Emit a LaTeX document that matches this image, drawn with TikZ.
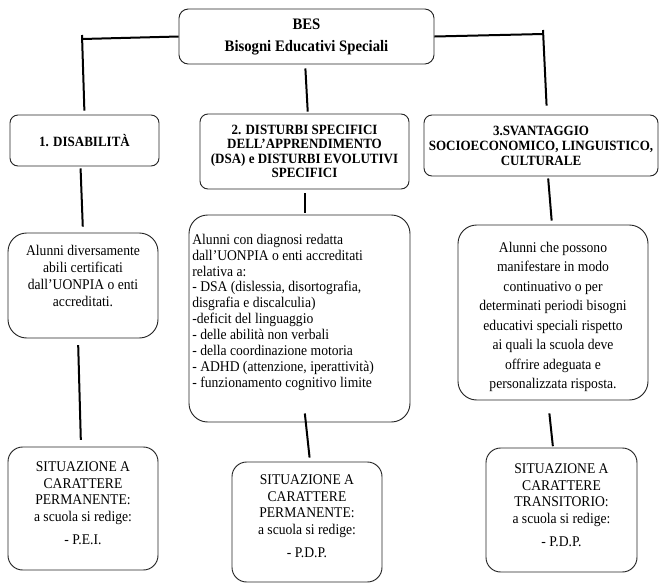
\documentclass[tikz,border=0pt]{standalone}
\usepackage{fontspec}
\setmainfont{Liberation Serif}[FakeStretch=0.92]
\newcommand{\boxtext}[5]{\begin{minipage}[c][#2][t]{#1}\fontsize{11.1}{#4}\selectfont\centering\vspace*{#3}#5\end{minipage}}
\tikzset{
  head/.style={draw=black!85,line width=0.7pt,rounded corners=6pt,align=center,inner sep=1pt,font=\bfseries\fontsize{10.6}{11}\selectfont},
  info/.style={draw=black!85,line width=0.7pt,rounded corners=14pt,inner sep=0pt},
  outcome/.style={draw=black!85,line width=0.7pt,rounded corners=11pt,inner sep=0pt},
  link/.style={line width=1.5pt}
}

\begin{document}
\begin{tikzpicture}[x=0.75pt,y=-0.75pt]
  \useasboundingbox (0,0) rectangle (661,583);
  % top
  \node[head,minimum width=191.25pt,minimum height=41.25pt,rounded corners=7pt,
        font=\bfseries\fontsize{12}{16.5}\selectfont] (bes) at (306.5,36.5) {BES\\Bisogni Educativi Speciali};

  % the three categories
  \node[head,minimum width=111.75pt,minimum height=38.25pt] (dis) at (84.5,140.5) {1. DISABILITÀ};
  \node[head,minimum width=156.75pt,minimum height=56.25pt,font=\bfseries\fontsize{10.6}{10.7}\selectfont] (dsa) at (304.5,151.5)
    {2. DISTURBI SPECIFICI\\DELL’APPRENDIMENTO\\(DSA) e DISTURBI EVOLUTIVI\\SPECIFICI};
  \node[head,minimum width=175.5pt,minimum height=45.75pt,font=\bfseries\fontsize{10.6}{11.25}\selectfont] (sva) at (541,145.5)
    {3.SVANTAGGIO\\SOCIOECONOMICO, LINGUISTICO,\\CULTURALE};

  % who the pupils are
  \node[info] (disA) at (83,285.5) {\boxtext{112.5pt}{78.75pt}{9pt}{12.75pt}
    {Alunni diversamente\\abili certificati\\dall’UONPIA o enti\\accreditati.}};
  \node[info] (dsaA) at (299.5,318.5) {\boxtext{165.75pt}{155.25pt}{14.25pt}{11.9pt}
    {\raggedright\leftskip=2.5pt
     Alunni con diagnosi redatta\\dall’UONPIA o enti accreditati\\relativa a:\\
     - DSA (dislessia, disortografia,\\disgrafia e discalculia)\\-deficit del linguaggio\\
     - delle abilità non verbali\\- della coordinazione motoria\\
     - ADHD (attenzione, iperattività)\\- funzionamento cognitivo limite}};
  \node[info] (svaA) at (553,312.5) {\boxtext{142.5pt}{131.25pt}{12.75pt}{14.6pt}
    {Alunni che possono\\manifestare in modo\\continuativo o per\\determinati periodi bisogni\\
     educativi speciali rispetto\\ai quali la scuola deve\\offrire adeguata e\\personalizzata risposta.}};

  % what the school writes
  \node[outcome] (disB) at (83,508.5) {\boxtext{112.5pt}{92.25pt}{11.25pt}{12.4pt}
    {SITUAZIONE A\\CARATTERE\\PERMANENTE:\\a scuola si redige:\\[4.9pt]- P.E.I.}};
  \node[outcome] (dsaB) at (307,522) {\boxtext{112.5pt}{90pt}{9.75pt}{12.4pt}
    {SITUAZIONE A\\CARATTERE\\PERMANENTE:\\a scuola si redige:\\[4.9pt]- P.D.P.}};
  \node[outcome] (svaB) at (561.5,510) {\boxtext{113.25pt}{93pt}{12pt}{12.4pt}
    {SITUAZIONE A\\CARATTERE\\TRANSITORIO:\\a scuola si redige:\\[4.9pt]- P.D.P.}};

  \coordinate (jl) at (82,39);
  \coordinate (jlt) at (82,35);
  \coordinate (jr) at (543,34);
  \coordinate (jrt) at (543,30);

  \draw[link] (bes.west) -- (jl);
  \draw[link,shorten >=3pt] (jlt) -- (dis.north);
  \draw[link] (bes.east) -- (jr);
  \draw[link,shorten >=6.75pt] (jrt) -- ([xshift=4.5pt]sva.north);
  \draw[link,shorten <=3pt,shorten >=1.5pt] ([xshift=-1pt]bes.south) -- ([xshift=2.5pt]dsa.north);

  \draw[link,shorten <=1.5pt,shorten >=4.5pt] ([xshift=-3pt]dis.south) -- (disA.north);
  \draw[link,shorten <=5pt,shorten >=5pt] ([xshift=-3.75pt]disA.south) -- ([xshift=-1.5pt]disB.north);

  \draw[link,shorten <=3pt,shorten >=1.5pt] (dsa.south) -- (dsa.south |- dsaA.north);
  \draw[link,shorten >=3pt] ([xshift=4pt,yshift=6.75pt]dsaA.south) -- ([xshift=2.25pt]dsaB.north);

  \draw[link,shorten <=1.5pt,shorten >=3pt] ([xshift=5.25pt]sva.south) -- ([xshift=-0.75pt]svaA.north);
  \draw[link,shorten <=9.75pt,shorten >=1pt] ([xshift=-3.75pt]svaA.south) -- ([xshift=-6.375pt]svaB.north);
\end{tikzpicture}
\end{document}
